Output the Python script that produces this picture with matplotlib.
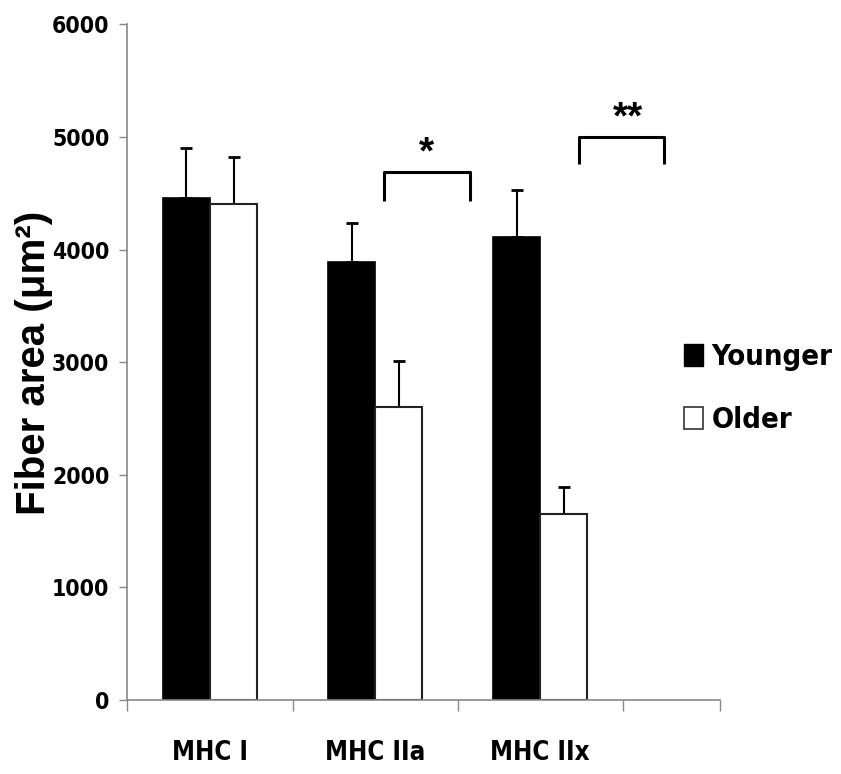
import numpy as np
import matplotlib.pyplot as plt
from matplotlib.patches import Patch
from matplotlib import font_manager

categories = ["MHC I", "MHC IIa", "MHC IIx"]
younger = [4460, 3885, 4115]
younger_err = [438, 347, 410]
older = [4400, 2600, 1650]
older_err = [418, 408, 240]
y_ticks = [0, 1000, 2000, 3000, 4000, 5000, 6000]

# pick a condensed bold face, the reference text is narrow
fonts = font_manager.fontManager.ttflist
names = {f.name for f in fonts}
if 'Liberation Sans Narrow' in names:
    narrow = {'family': 'Liberation Sans Narrow'}
elif any(f.name == 'DejaVu Sans' and 'condensed' in str(f.stretch) for f in fonts):
    narrow = {'family': 'DejaVu Sans', 'stretch': 'condensed'}
elif 'DejaVu Sans Condensed' in names:
    narrow = {'family': 'DejaVu Sans Condensed'}
else:
    narrow = {'family': 'Liberation Sans'}

fig = plt.figure(figsize=(8.41, 7.74), dpi=100)
ax = fig.add_axes([0.1516, 0.0956, 0.7045, 0.873])

x = np.arange(len(categories))
w = 0.285
ax.bar(x - w, younger, w, align='edge', color='black', edgecolor='black', linewidth=1.2, zorder=2)
ax.bar(x, older, w, align='edge', color='white', edgecolor='#222222', linewidth=1.5, zorder=2)
ax.errorbar(x - w / 2, younger, yerr=[np.zeros(3), younger_err], fmt='none', ecolor='black',
            elinewidth=1.5, capsize=4, capthick=2, zorder=1)
ax.errorbar(x + w / 2, older, yerr=[np.zeros(3), older_err], fmt='none', ecolor='black',
            elinewidth=1.5, capsize=4, capthick=2, zorder=1)

# significance brackets
brackets = [(1.055, 1.576, 4685, 4428, 1.31, "*"), (2.236, 2.752, 4996, 4756, 2.53, "**")]
for x0, x1, top, end, sx, star in brackets:
    ax.plot([x0, x0, x1, x1], [end, top, top, end], color='black', lw=2.2,
            solid_joinstyle='round', solid_capstyle='butt', clip_on=False)
    ax.text(sx, top + 10, star, ha='center', va='bottom', fontsize=28, fontweight='bold',
            family='Liberation Sans')

ax.set_xlim(-0.5, 3.09)
ax.set_ylim(0, 6000)
ax.set_yticks(y_ticks)
ax.set_yticklabels([str(v) for v in y_ticks], fontsize=16.5, fontweight='bold', **narrow)
ax.tick_params(axis='y', length=6, width=1, color='#888888', pad=7)

ax.set_xticks([-0.5, 0.5, 1.5, 2.5, 3.09])
ax.set_xticklabels([])
ax.tick_params(axis='x', which='major', length=8, width=1, color='#888888')
ax.set_xticks(x, minor=True)
ax.set_xticklabels(categories, minor=True, fontsize=18.5, fontweight='bold', **narrow)
ax.tick_params(axis='x', which='minor', length=0, pad=29)

for s in ['top', 'right']:
    ax.spines[s].set_visible(False)
for s in ['left', 'bottom']:
    ax.spines[s].set_color('#888888')
    ax.spines[s].set_linewidth(1.2)

fig.text(0.041, 1 - 363 / 774, "Fiber area (μm²)", rotation=90, ha='center', va='center',
         fontsize=29, fontweight='bold', family='Liberation Sans')

handles = [Patch(facecolor='black', edgecolor='black'),
           Patch(facecolor='white', edgecolor='#333333', linewidth=1.2)]
prop = dict(narrow, size=21, weight='bold')
fig.legend(handles, ["Younger", "Older"], loc='upper left', bbox_to_anchor=(0.8, 0.572),
           frameon=False, handlelength=0.62, handleheight=0.76, handletextpad=0.3,
           labelspacing=1.2, borderaxespad=0, prop=prop)

fig.savefig("out.png", dpi=100)
